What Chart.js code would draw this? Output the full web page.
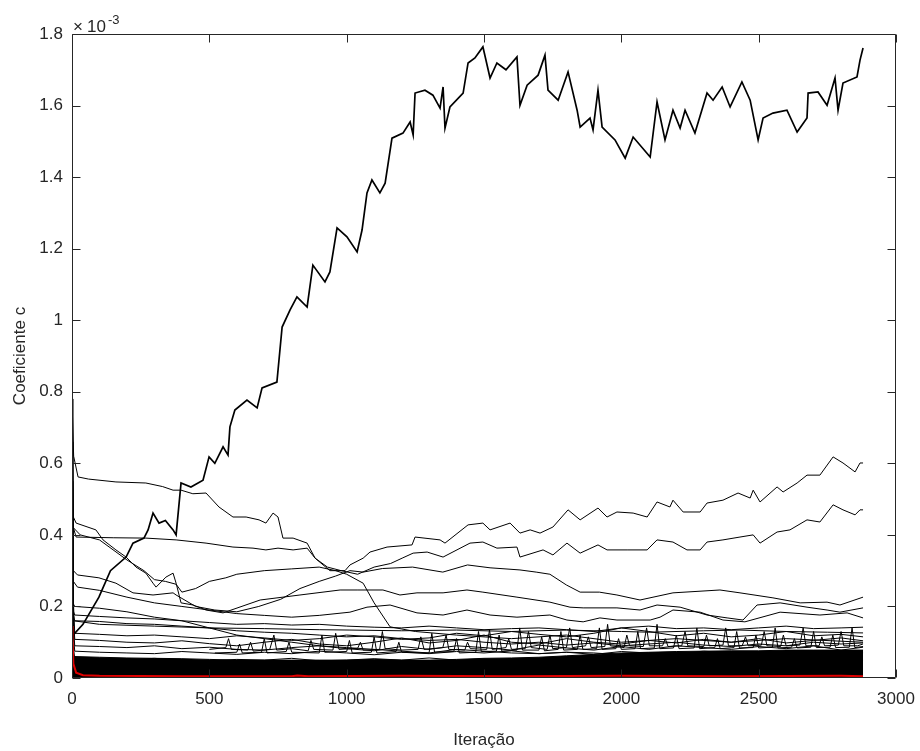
<!DOCTYPE html>
<html>
<head>
<meta charset="utf-8">
<script src="https://cdn.jsdelivr.net/npm/chart.js@4.4.1/dist/chart.umd.min.js"></script>
<style>
  html, body { margin: 0; padding: 0; background: #fff; }
</style>
</head>
<body>
<canvas id="myChart" width="920" height="751"></canvas>
<script>
// values are in units of 1e-3 (the axis shows x10^-3)
const xTicks = [0, 500, 1000, 1500, 2000, 2500, 3000];
const yTicks = [0, 0.2, 0.4, 0.6, 0.8, 1, 1.2, 1.4, 1.6, 1.8];

// the big one that climbs to ~1.7
const bigIter = [0, 4, 40, 98, 140, 197, 222, 262, 277, 295, 317, 340, 368, 379, 397, 433, 477, 499, 520, 550, 568, 575, 593, 637, 674, 692, 746, 765, 794, 819, 856, 877, 921, 939, 965, 1001, 1038, 1056, 1074, 1092, 1121, 1140, 1165, 1205, 1231, 1242, 1249, 1285, 1314, 1340, 1351, 1358, 1376, 1424, 1442, 1467, 1496, 1522, 1547, 1580, 1620, 1631, 1657, 1697, 1722, 1733, 1770, 1806, 1839, 1850, 1886, 1897, 1915, 1930, 1977, 2014, 2043, 2105, 2130, 2159, 2188, 2214, 2232, 2268, 2312, 2334, 2367, 2396, 2439, 2469, 2498, 2516, 2552, 2603, 2640, 2676, 2680, 2716, 2749, 2778, 2789, 2807, 2858, 2869, 2880];
const bigVal = [0.30, 0.12, 0.15, 0.226, 0.30, 0.338, 0.377, 0.391, 0.414, 0.461, 0.433, 0.44, 0.414, 0.400, 0.545, 0.534, 0.553, 0.618, 0.60, 0.646, 0.623, 0.702, 0.749, 0.777, 0.755, 0.811, 0.827, 0.981, 1.029, 1.065, 1.037, 1.154, 1.107, 1.135, 1.258, 1.233, 1.191, 1.252, 1.356, 1.392, 1.356, 1.383, 1.509, 1.523, 1.554, 1.518, 1.635, 1.643, 1.629, 1.593, 1.652, 1.537, 1.596, 1.635, 1.719, 1.733, 1.764, 1.677, 1.719, 1.70, 1.736, 1.601, 1.657, 1.685, 1.741, 1.643, 1.615, 1.694, 1.587, 1.540, 1.565, 1.532, 1.643, 1.540, 1.504, 1.453, 1.512, 1.456, 1.610, 1.504, 1.587, 1.537, 1.587, 1.523, 1.635, 1.615, 1.652, 1.596, 1.666, 1.615, 1.504, 1.565, 1.579, 1.587, 1.526, 1.565, 1.635, 1.638, 1.601, 1.677, 1.587, 1.663, 1.680, 1.727, 1.761];

// starts ~0.55, ends ~0.6
const aIter = [0, 6, 22, 60, 160, 269, 330, 368, 397, 440, 488, 535, 586, 634, 681, 706, 732, 750, 768, 805, 856, 885, 939, 994, 1012, 1060, 1085, 1147, 1238, 1249, 1340, 1358, 1442, 1496, 1522, 1595, 1631, 1668, 1704, 1751, 1806, 1850, 1915, 1948, 1984, 2043, 2094, 2130, 2177, 2188, 2225, 2287, 2312, 2370, 2425, 2469, 2480, 2505, 2567, 2589, 2640, 2676, 2723, 2771, 2807, 2851, 2869, 2880];
const aVal = [0.78, 0.62, 0.562, 0.556, 0.548, 0.545, 0.535, 0.525, 0.525, 0.515, 0.517, 0.478, 0.45, 0.45, 0.442, 0.433, 0.461, 0.45, 0.391, 0.391, 0.377, 0.335, 0.30, 0.30, 0.316, 0.335, 0.352, 0.366, 0.372, 0.394, 0.386, 0.377, 0.428, 0.433, 0.414, 0.433, 0.405, 0.414, 0.405, 0.422, 0.470, 0.442, 0.475, 0.450, 0.464, 0.461, 0.450, 0.492, 0.478, 0.497, 0.464, 0.464, 0.489, 0.497, 0.517, 0.503, 0.525, 0.492, 0.534, 0.520, 0.545, 0.567, 0.567, 0.618, 0.601, 0.576, 0.601, 0.601];

// starts ~0.4 flat, ends ~0.47
const bIter = [0, 5, 15, 150, 269, 379, 488, 586, 659, 706, 750, 805, 856, 885, 930, 980, 1040, 1100, 1160, 1202, 1242, 1293, 1351, 1449, 1496, 1547, 1620, 1631, 1715, 1751, 1802, 1850, 1915, 1948, 2021, 2094, 2130, 2188, 2239, 2287, 2312, 2370, 2432, 2480, 2505, 2567, 2614, 2676, 2723, 2771, 2807, 2851, 2869, 2880];
const bVal = [0.72, 0.42, 0.394, 0.392, 0.391, 0.386, 0.377, 0.366, 0.363, 0.358, 0.363, 0.358, 0.363, 0.335, 0.31, 0.30, 0.29, 0.31, 0.32, 0.335, 0.349, 0.352, 0.338, 0.377, 0.380, 0.363, 0.366, 0.338, 0.358, 0.344, 0.377, 0.349, 0.372, 0.358, 0.358, 0.358, 0.386, 0.380, 0.358, 0.358, 0.380, 0.386, 0.394, 0.400, 0.377, 0.408, 0.414, 0.442, 0.436, 0.484, 0.470, 0.456, 0.470, 0.470];

const cIter = [0, 5, 20, 98, 160, 222, 295, 368, 379, 450, 520, 600, 680, 760, 830, 900, 960, 1012, 1060, 1130, 1240, 1350, 1440, 1522, 1631, 1690, 1740, 1800, 1850, 1920, 1984, 2068, 2188, 2359, 2432, 2552, 2651, 2749, 2796, 2880];
const cVal = [0.5, 0.3, 0.288, 0.28, 0.265, 0.238, 0.232, 0.238, 0.232, 0.2, 0.19, 0.185, 0.2, 0.22, 0.25, 0.27, 0.285, 0.3, 0.296, 0.306, 0.31, 0.296, 0.316, 0.308, 0.302, 0.296, 0.29, 0.26, 0.24, 0.24, 0.232, 0.218, 0.238, 0.246, 0.238, 0.224, 0.21, 0.212, 0.204, 0.226];

const dIter = [0, 5, 15, 87, 113, 160, 197, 233, 269, 295, 306, 342, 368, 379, 397, 441, 488, 550, 685, 830, 976, 1038, 1132, 1194, 1256, 1351, 1438, 1496, 1620, 1740, 1813, 1861, 1984, 2068, 2130, 2214, 2312, 2385, 2443, 2494, 2578, 2676, 2749, 2796, 2880];
const dVal = [0.6, 0.45, 0.433, 0.414, 0.386, 0.358, 0.338, 0.310, 0.293, 0.265, 0.254, 0.282, 0.293, 0.265, 0.21, 0.204, 0.19, 0.182, 0.218, 0.232, 0.246, 0.246, 0.246, 0.232, 0.238, 0.238, 0.246, 0.240, 0.226, 0.212, 0.198, 0.196, 0.196, 0.19, 0.204, 0.198, 0.176, 0.168, 0.162, 0.204, 0.21, 0.198, 0.19, 0.184, 0.196];

const eIter = [0, 5, 20, 100, 200, 300, 400, 500, 600, 700, 800, 900, 1012, 1074, 1158, 1256, 1351, 1438, 1522, 1620, 1740, 1802, 1861, 1922, 1984, 2105, 2141, 2188, 2287, 2370, 2450, 2578, 2723, 2822, 2880];
const eVal = [0.45, 0.27, 0.254, 0.245, 0.226, 0.21, 0.2, 0.19, 0.18, 0.175, 0.17, 0.175, 0.184, 0.198, 0.204, 0.182, 0.176, 0.19, 0.176, 0.170, 0.176, 0.162, 0.157, 0.168, 0.162, 0.162, 0.170, 0.19, 0.184, 0.162, 0.157, 0.184, 0.176, 0.182, 0.168];

const fIter = [0, 5, 30, 100, 200, 262, 300, 340, 379, 400, 450, 500, 560, 600, 700, 800, 900, 960, 1000, 1060, 1100, 1158, 1250, 1400, 1600, 1800, 2000, 2200, 2400, 2600, 2880];
const fVal = [0.7, 0.42, 0.40, 0.386, 0.33, 0.30, 0.275, 0.27, 0.262, 0.24, 0.25, 0.27, 0.28, 0.29, 0.3, 0.305, 0.31, 0.30, 0.29, 0.265, 0.21, 0.143, 0.13, 0.12, 0.11, 0.12, 0.1, 0.11, 0.1, 0.11, 0.1];

const gIter = [0, 5, 100, 300, 500, 700, 900, 1012, 1200, 1400, 1600, 1800, 2000, 2105, 2300, 2432, 2600, 2750, 2880];
const gVal = [0.3, 0.16, 0.15, 0.145, 0.14, 0.138, 0.135, 0.134, 0.132, 0.134, 0.13, 0.134, 0.13, 0.128, 0.132, 0.134, 0.13, 0.128, 0.126];

// lower bundle, all on the same iteration grid
const bandIter = [0, 3, 10, 100, 200, 300, 400, 500, 600, 700, 800, 900, 1000, 1100, 1200, 1300, 1400, 1500, 1600, 1700, 1800, 1900, 2000, 2100, 2200, 2300, 2400, 2500, 2600, 2700, 2800, 2880];
const band1 = [0.78, 0.25, 0.125, 0.122, 0.118, 0.12, 0.115, 0.11, 0.118, 0.112, 0.105, 0.11, 0.12, 0.115, 0.108, 0.112, 0.125, 0.118, 0.13, 0.122, 0.115, 0.125, 0.14, 0.13, 0.118, 0.125, 0.115, 0.12, 0.13, 0.118, 0.122, 0.115];
const band2 = [0.66, 0.2, 0.108, 0.105, 0.1, 0.098, 0.104, 0.096, 0.09, 0.1, 0.108, 0.095, 0.09, 0.1, 0.112, 0.098, 0.105, 0.12, 0.1, 0.095, 0.11, 0.1, 0.095, 0.105, 0.098, 0.108, 0.1, 0.11, 0.098, 0.105, 0.112, 0.104];
const band3 = [0.55, 0.16, 0.09, 0.088, 0.085, 0.09, 0.082, 0.086, 0.08, 0.078, 0.085, 0.09, 0.082, 0.076, 0.088, 0.08, 0.09, 0.085, 0.078, 0.092, 0.084, 0.078, 0.088, 0.08, 0.09, 0.085, 0.08, 0.088, 0.082, 0.09, 0.078, 0.086];
const band4 = [0.48, 0.14, 0.075, 0.072, 0.07, 0.068, 0.074, 0.07, 0.066, 0.072, 0.068, 0.075, 0.07, 0.065, 0.072, 0.068, 0.074, 0.07, 0.076, 0.068, 0.072, 0.066, 0.074, 0.07, 0.068, 0.075, 0.07, 0.072, 0.066, 0.074, 0.07, 0.072];
const band5 = [0.42, 0.18, 0.16, 0.158, 0.152, 0.15, 0.145, 0.14, 0.132, 0.128, 0.125, 0.12, 0.115, 0.118, 0.11, 0.105, 0.108, 0.1, 0.095, 0.1, 0.092, 0.098, 0.09, 0.095, 0.1, 0.092, 0.088, 0.095, 0.09, 0.1, 0.095, 0.098];
const band6 = [0.35, 0.19, 0.176, 0.172, 0.168, 0.165, 0.16, 0.155, 0.15, 0.152, 0.148, 0.15, 0.145, 0.142, 0.14, 0.145, 0.14, 0.135, 0.138, 0.14, 0.135, 0.13, 0.14, 0.145, 0.138, 0.14, 0.135, 0.14, 0.145, 0.138, 0.14, 0.142];
const band7 = [0.3, 0.1, 0.055, 0.052, 0.05, 0.055, 0.05, 0.048, 0.052, 0.05, 0.055, 0.048, 0.05, 0.054, 0.05, 0.056, 0.05, 0.052, 0.048, 0.055, 0.05, 0.053, 0.049, 0.055, 0.05, 0.052, 0.056, 0.05, 0.054, 0.05, 0.052, 0.05];
const band8 = [0.26, 0.21, 0.2, 0.195, 0.185, 0.17, 0.16, 0.14, 0.12, 0.11, 0.1, 0.09, 0.085, 0.08, 0.075, 0.07, 0.08, 0.075, 0.07, 0.068, 0.072, 0.07, 0.065, 0.07, 0.068, 0.072, 0.066, 0.07, 0.068, 0.07, 0.072, 0.07];
// top of the solid black mass
const bandTop = [0.06, 0.06, 0.06, 0.058, 0.056, 0.055, 0.054, 0.052, 0.05, 0.05, 0.05, 0.05, 0.05, 0.052, 0.05, 0.05, 0.052, 0.055, 0.056, 0.058, 0.062, 0.066, 0.07, 0.072, 0.074, 0.075, 0.076, 0.076, 0.078, 0.078, 0.078, 0.078];

// narrow spikes in the 0.07-0.15 zone
const spikeAIter = [500, 560, 570, 580, 640, 650, 660, 720, 735, 745,
  800, 860, 870, 880, 950, 960, 972, 1040, 1050, 1060,
  1120, 1130, 1140, 1200, 1260, 1270, 1282, 1350, 1362, 1372,
  1430, 1440, 1450, 1510, 1520, 1530, 1580, 1590, 1600, 1650,
  1662, 1672, 1730, 1740, 1750, 1800, 1812, 1822, 1870, 1880,
  1890, 1940, 1950, 1960, 2010, 2020, 2030, 2080, 2092, 2102,
  2150, 2160, 2170, 2220, 2232, 2242, 2300, 2310, 2320, 2370,
  2380, 2390, 2440, 2452, 2462, 2510, 2520, 2530, 2580, 2590,
  2600, 2650, 2662, 2672, 2720, 2730, 2740, 2790, 2800, 2810,
  2860, 2880];
const spikeA = [0.08, 0.085, 0.11, 0.08, 0.078, 0.1, 0.075, 0.08, 0.12, 0.078,
  0.082, 0.076, 0.105, 0.08, 0.078, 0.125, 0.08, 0.083, 0.1, 0.078,
  0.08, 0.13, 0.082, 0.078, 0.08, 0.115, 0.08, 0.085, 0.12, 0.08,
  0.078, 0.1, 0.082, 0.08, 0.135, 0.08, 0.085, 0.11, 0.08, 0.082,
  0.13, 0.085, 0.08, 0.12, 0.082, 0.085, 0.14, 0.085, 0.09, 0.115,
  0.085, 0.088, 0.15, 0.09, 0.085, 0.12, 0.09, 0.088, 0.14, 0.09,
  0.09, 0.11, 0.088, 0.09, 0.13, 0.09, 0.088, 0.12, 0.09, 0.092,
  0.14, 0.09, 0.09, 0.115, 0.09, 0.092, 0.13, 0.09, 0.088, 0.12,
  0.09, 0.092, 0.14, 0.09, 0.09, 0.115, 0.09, 0.092, 0.13, 0.09,
  0.09, 0.095];
const spikeBIter = [520, 600, 610, 620, 690, 700, 710, 780, 790, 800,
  900, 910, 920, 1000, 1010, 1020, 1090, 1100, 1110, 1180,
  1190, 1200, 1300, 1310, 1320, 1390, 1400, 1410, 1470, 1480,
  1490, 1545, 1555, 1565, 1620, 1630, 1640, 1700, 1710, 1720,
  1770, 1780, 1790, 1840, 1850, 1860, 1910, 1920, 1930, 1980,
  1990, 2000, 2050, 2060, 2070, 2120, 2130, 2140, 2190, 2200,
  2210, 2265, 2275, 2285, 2340, 2350, 2360, 2410, 2420, 2430,
  2480, 2490, 2500, 2550, 2560, 2570, 2620, 2630, 2640, 2690,
  2700, 2710, 2760, 2770, 2780, 2830, 2840, 2850, 2880];
const spikeB = [0.07, 0.072, 0.095, 0.07, 0.072, 0.11, 0.07, 0.074, 0.1, 0.072,
  0.07, 0.12, 0.072, 0.074, 0.105, 0.07, 0.072, 0.115, 0.07, 0.074,
  0.1, 0.072, 0.07, 0.125, 0.072, 0.074, 0.11, 0.07, 0.072, 0.13,
  0.074, 0.075, 0.12, 0.075, 0.078, 0.14, 0.078, 0.078, 0.115, 0.076,
  0.08, 0.13, 0.078, 0.08, 0.12, 0.08, 0.082, 0.14, 0.08, 0.082,
  0.11, 0.08, 0.082, 0.13, 0.082, 0.084, 0.15, 0.082, 0.084, 0.12,
  0.082, 0.084, 0.14, 0.082, 0.085, 0.11, 0.082, 0.085, 0.13, 0.084,
  0.085, 0.12, 0.084, 0.086, 0.14, 0.084, 0.086, 0.11, 0.084, 0.086,
  0.13, 0.085, 0.086, 0.12, 0.085, 0.086, 0.14, 0.085, 0.088];

// the red one near zero
const redIter = [0, 2, 5, 15, 40, 100, 400, 800, 820, 860, 1200, 1600, 2000, 2400, 2800, 2880];
const redVal = [0.145, 0.11, 0.04, 0.015, 0.008, 0.006, 0.005, 0.005, 0.007, 0.005, 0.006, 0.005, 0.006, 0.005, 0.006, 0.005];

const FONT = '"Liberation Sans", Arial, Helvetica, sans-serif';
const TXT = '#262626';

function pts(xs, ys) {
  return xs.map((x, i) => ({x: x, y: ys[i]}));
}

function line(xs, ys, width) {
  return {
    data: pts(xs, ys),
    borderColor: '#000',
    borderWidth: width || 1,
    pointRadius: 0,
    fill: false,
    tension: 0,
    order: 1
  };
}

const boxPlugin = {
  id: 'box',
  afterDraw(chart) {
    const c = chart.ctx;
    const a = chart.chartArea;
    const sx = chart.scales.x, sy = chart.scales.y;
    const L = Math.round(a.left) + 0.5, R = Math.round(a.right) - 0.5;
    const T = Math.round(a.top) + 0.5, B = Math.round(a.bottom) - 0.5;
    c.save();
    c.strokeStyle = '#262626';
    c.lineWidth = 1;
    c.beginPath();
    c.moveTo(L, T); c.lineTo(R, T); c.lineTo(R, B); c.lineTo(L, B); c.closePath();
    // inward ticks, all four sides
    xTicks.forEach(v => {
      const px = Math.round(sx.getPixelForValue(v)) + 0.5;
      c.moveTo(px, B); c.lineTo(px, B - 8);
      c.moveTo(px, T); c.lineTo(px, T + 8);
    });
    yTicks.forEach(v => {
      const py = Math.round(sy.getPixelForValue(v)) + 0.5;
      c.moveTo(L, py); c.lineTo(L + 8, py);
      c.moveTo(R, py); c.lineTo(R - 8, py);
    });
    c.stroke();

    c.fillStyle = TXT;
    c.font = '17px ' + FONT;
    c.textAlign = 'center';
    c.textBaseline = 'middle';
    c.fillText('Iteração', (a.left + a.right) / 2, 740);
    c.save();
    c.translate(20, (a.top + a.bottom) / 2);
    c.rotate(-Math.PI / 2);
    c.fillText('Coeficiente c', 0, 0);
    c.restore();

    // x10^-3 above the y axis
    c.textAlign = 'left';
    c.textBaseline = 'alphabetic';
    c.fillText('\u00d7', a.left + 1, 32);
    c.fillText('10', a.left + 15, 32);
    c.font = '13px ' + FONT;
    c.fillText('-3', a.left + 36, 24);
    c.restore();
  }
};

function chartCoef() {
  const ctx = document.getElementById('myChart').getContext('2d');
  const red = line(redIter, redVal, 2);
  red.borderColor = '#e00000';
  red.order = 0;
  const mass = line(bandIter, bandTop);
  mass.fill = 'origin';
  mass.backgroundColor = '#000';
  mass.order = 2;

  const myChart = new Chart(ctx, {
    type: 'line',
    data: {
      datasets: [
        red,
        line(bigIter, bigVal, 1.7),
        line(aIter, aVal),
        line(bIter, bVal),
        line(cIter, cVal),
        line(dIter, dVal),
        line(eIter, eVal),
        line(fIter, fVal),
        line(gIter, gVal),
        line(bandIter, band1),
        line(bandIter, band2),
        line(bandIter, band3),
        line(bandIter, band4),
        line(bandIter, band5),
        line(bandIter, band6),
        line(bandIter, band7),
        line(bandIter, band8),
        line(spikeAIter, spikeA),
        line(spikeBIter, spikeB),
        mass
      ]
    },
    options: {
      responsive: false,
      devicePixelRatio: 1,
      animation: false,
      layout: {padding: {left: 0, right: 24, top: 34, bottom: 0}},
      plugins: {
        legend: {display: false},
        tooltip: {enabled: false}
      },
      scales: {
        x: {
          type: 'linear',
          min: 0,
          max: 3000,
          afterFit: s => { s.height = 73; s.paddingLeft = 0; s.paddingRight = 0; },
          afterBuildTicks: s => { s.ticks = xTicks.map(v => ({value: v})); },
          ticks: {
            color: TXT,
            font: {family: FONT, size: 17},
            padding: 11,
            maxRotation: 0,
            callback: v => String(v)
          },
          grid: {drawOnChartArea: false, drawTicks: false},
          border: {display: false}
        },
        y: {
          type: 'linear',
          min: 0,
          max: 1.8,
          afterFit: s => { s.width = 72; s.paddingTop = 0; s.paddingBottom = 0; },
          afterBuildTicks: s => { s.ticks = yTicks.map(v => ({value: v})); },
          ticks: {
            color: TXT,
            font: {family: FONT, size: 17},
            padding: 9,
            callback: v => String(+v.toFixed(1))
          },
          grid: {drawOnChartArea: false, drawTicks: false},
          border: {display: false}
        }
      }
    },
    plugins: [boxPlugin]
  });
}

chartCoef();
</script>
</body>
</html>
